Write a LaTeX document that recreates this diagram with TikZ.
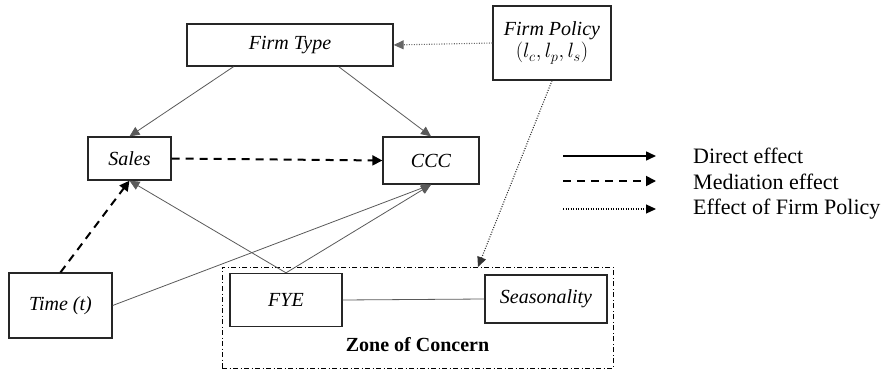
\documentclass[tikz,border=0pt]{standalone}
\usepackage{fontspec}
\setmainfont{Liberation Serif}
\usetikzlibrary{arrows.meta}

\tikzset{
  box/.style={draw=black!85, line width=1.3pt, fill=white, font=\fontsize{20}{24}\selectfont\itshape},
  direct/.style={draw=black!65, line width=0.8pt, -{Triangle[width=9pt,length=10pt]}},
  mediation/.style={draw=black, line width=2pt, dash pattern=on 8pt off 6pt, -{Triangle[width=10pt,length=10pt]}},
  policy/.style={draw=black!80, line width=1.1pt, dash pattern=on 1pt off 1.5pt, -{Triangle[width=9pt,length=10pt]}},
  zonebox/.style={draw=black, line width=1pt, dash pattern=on 5pt off 2.5pt on 1pt off 2.5pt},
  legtext/.style={anchor=west, inner sep=0pt, font=\fontsize{22}{26}\selectfont}
}

\begin{document}
\begin{tikzpicture}[x=1pt, y=-1pt]
  \useasboundingbox (0,0) rectangle (888,371);

  % zone of concern
  \node[zonebox, minimum width=391pt, minimum height=101pt] (zone) at (417.5,317.5) {};
  \node[font=\fontsize{20}{24}\selectfont\bfseries] (zlabel) at (417.5,345) {Zone of Concern};
  \coordinate (ztop) at (478,267);

  % nodes
  \node[box, minimum width=206pt, minimum height=42pt] (ftype) at (290,45) {Firm Type};
  \node[box, align=center, inner xsep=8pt, minimum width=118pt, minimum height=74pt] (fpol) at (552,43)
    {Firm Policy\\[-2pt] \upshape$\left(l_c, l_p, l_s\right)$};
  \node[box, minimum width=83pt, minimum height=43pt] (sales) at (129.5,158.5) {Sales};
  \node[box, minimum width=96pt, minimum height=47pt] (ccc) at (431,160.5) {CCC};
  \node[box, minimum width=103pt, minimum height=65pt] (time) at (60.5,305.5) {Time (t)};
  \node[box, minimum width=112pt, minimum height=53pt] (fye) at (286,300) {FYE};
  \node[box, minimum width=122pt, minimum height=48pt] (seas) at (546,299) {Seasonality};

  % effects
  \draw[direct] (ftype.201) -- (sales.north);
  \draw[direct] (ftype.336) -- (ccc.north);
  \draw[direct] (fye.north) -- (sales.south);
  \draw[direct] (fye.north) -- (ccc.south);
  \draw[direct] (time.east) -- (ccc.south);
  \draw[draw=black!65, line width=0.8pt] (fye.east) -- (seas.west);
  \draw[mediation] (sales.east) -- (ccc.west);
  \draw[mediation] (time.north) -- (sales.south);
  \draw[policy, draw=black!60] (fpol.west) -- (ftype.east);
  \draw[policy] (fpol.south) -- (ztop);

  % legend
  \node[legtext] (t1) at (693,156) {Direct effect};
  \node[legtext] (t2) at (693,182) {Mediation effect};
  \node[legtext] (t3) at (693,209) {Effect of Firm Policy};
  \coordinate (l1) at (563,156);
  \coordinate (l2) at (563,181);
  \coordinate (l3) at (563,209);
  \coordinate (e1) at (656,156);
  \coordinate (e2) at (656,181);
  \coordinate (e3) at (656,209);
  \draw[direct, draw=black, line width=1.5pt] (l1) -- (e1);
  \draw[mediation, line width=1.8pt] (l2) -- (e2);
  \draw[policy, draw=black] (l3) -- (e3);
\end{tikzpicture}
\end{document}
